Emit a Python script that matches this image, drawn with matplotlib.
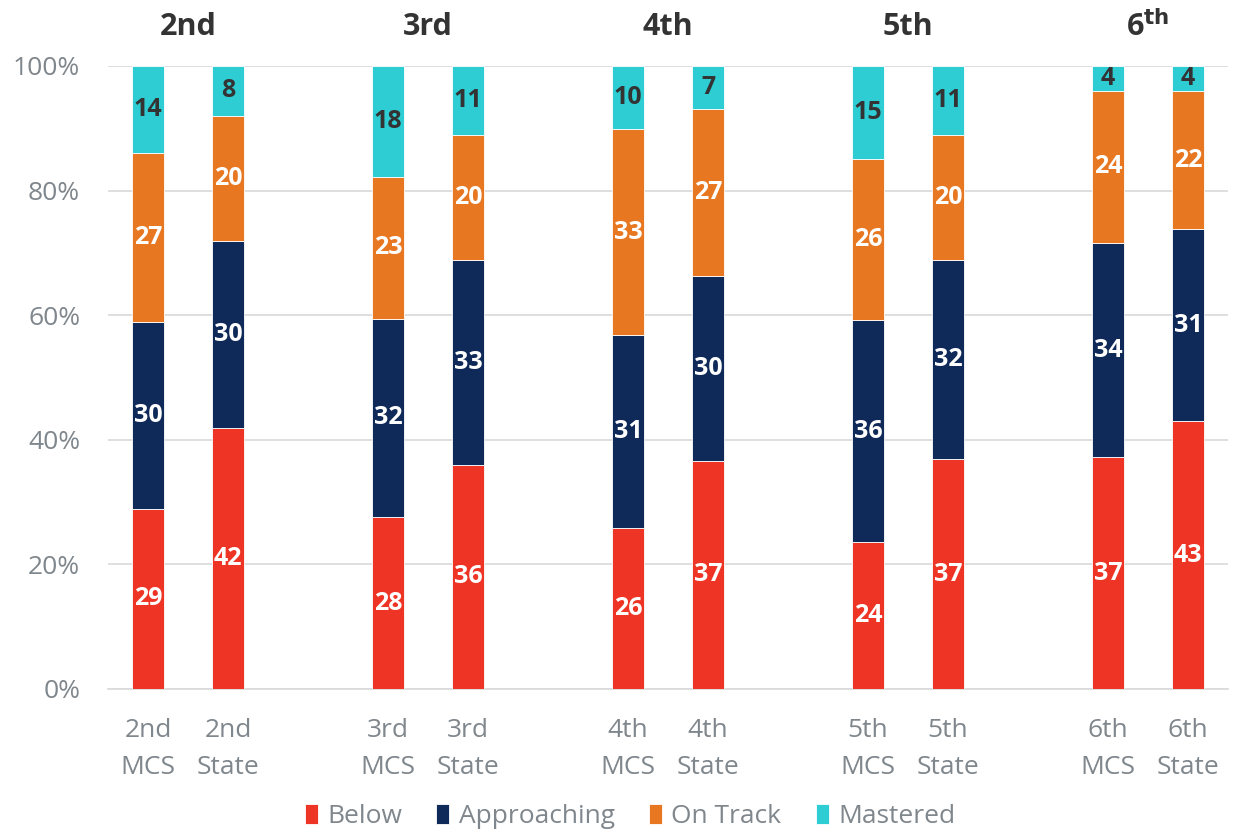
import matplotlib.pyplot as plt
import numpy as np

plt.rcParams["font.family"] = ["Open Sans", "DejaVu Sans"]

# data (percent of students)
bar_labels = ["2nd\nMCS", "2nd\nState", "3rd\nMCS", "3rd\nState", "4th\nMCS",
              "4th\nState", "5th\nMCS", "5th\nState", "6th\nMCS", "6th\nState"]
grade_titles = ["2nd", "3rd", "4th", "5th", "6$^{\\mathbf{th}}$"]
below = [28.9, 41.9, 27.6, 36.0, 25.8, 36.6, 23.6, 36.9, 37.2, 43.0]
approaching = [30.0, 30.0, 31.8, 32.9, 31.0, 29.7, 35.6, 32.0, 34.4, 30.8]
on_track = [27.1, 20.1, 22.8, 20.0, 33.1, 26.8, 25.9, 20.0, 24.4, 22.2]
mastered = [14.0, 8.0, 17.8, 11.1, 10.1, 6.9, 14.9, 11.1, 4.0, 4.0]

series = [
    ("Below", below, "#EE3425", "white"),
    ("Approaching", approaching, "#0F2A58", "white"),
    ("On Track", on_track, "#E87722", "white"),
    ("Mastered", mastered, "#2ECDD3", "#333333"),
]

# two bars per grade, gap of one slot between grades
x = np.array([g * 3 + i for g in range(5) for i in range(2)], dtype=float)

fig = plt.figure(figsize=(12.38, 8.33), dpi=100)
ax = fig.add_axes([0.0872, 0.1729, 0.9048, 0.7479])

bottom = np.zeros(len(x))
for name, vals, color, txt in series:
    vals = np.array(vals)
    ax.bar(x, vals / 100, 0.4, bottom=bottom / 100, color=color,
           edgecolor="white", linewidth=0.6, label=name, zorder=3)
    for xi, b, v in zip(x, bottom, vals):
        ax.text(xi, (b + v / 2) / 100, f"{v:.0f}", ha="center", va="center",
                color=txt, fontsize=18, fontweight="bold", zorder=4)
    bottom += vals

ax.set_xlim(-0.5, 13.5)
ax.set_ylim(0, 1)
ax.set_yticks(np.linspace(0, 1, 6))
ax.set_yticklabels([f"{v}%" for v in range(0, 101, 20)])
ax.set_xticks(x)
ax.set_xticklabels(bar_labels)
ax.tick_params(axis="both", length=0, labelsize=19, colors="#7F868C")
ax.tick_params(axis="x", pad=21)
ax.tick_params(axis="y", pad=20)
for lbl in ax.get_xticklabels():
    lbl.set_linespacing(1.6)

ax.grid(axis="y", color="#D9D9D9", linewidth=1.2, zorder=0)
for side in ["top", "right", "left"]:
    ax.spines[side].set_visible(False)
ax.spines["bottom"].set_color("#D9D9D9")
ax.spines["bottom"].set_linewidth(1.2)

# grade headers above each pair
for g, title in enumerate(grade_titles):
    ax.text(g * 3 + 0.5, 1.062, title, transform=ax.get_xaxis_transform(),
            ha="center", va="center", fontsize=22, fontweight="bold",
            color="#333333")

ax.legend(loc="center", bbox_to_anchor=(0.466, -0.205), ncol=4,
          frameon=False, fontsize=19, labelcolor="#7F868C",
          handlelength=0.5, handleheight=0.8, handletextpad=0.35,
          columnspacing=1.3)

fig.savefig("out.png", dpi=100)
